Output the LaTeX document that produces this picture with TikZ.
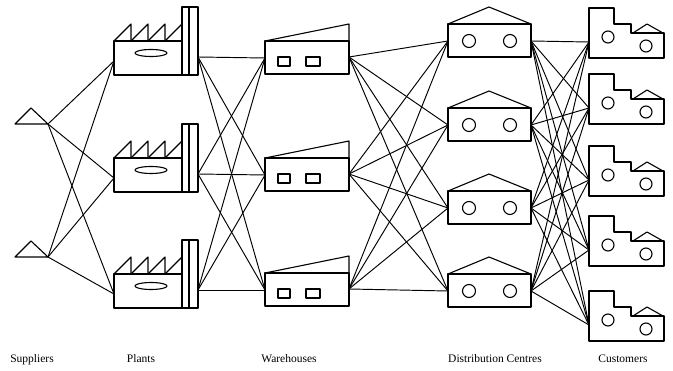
\documentclass[tikz,border=0pt]{standalone}
\usepackage{fontspec}
\setmainfont{Liberation Serif}

\begin{document}
\begin{tikzpicture}[
  x=1pt, y=-1pt,
  line cap=round,
  line join=round,
  icon/.style={line width=1.1pt},
  link/.style={line width=0.95pt},
  tierLabel/.style={font=\fontsize{11.5}{13}\selectfont, anchor=base, inner sep=0pt},
  % icons: origin at the top left corner of the main box
  supplierIcon/.pic={
    \draw[icon] (-33,0) -- (-17,-16) -- (0,0) -- cycle;
    \coordinate (-out) at (0,0);
  },
  plantIcon/.pic={
    \draw[icon] (0,0) rectangle (68,34);
    \draw[icon] (68,-34) rectangle (84,34);
    \draw[icon] (75,-34) -- (75,34);
    \foreach \t in {0,17,34,51}
      \draw[icon] (\t,0) -- (\t+17,-17) -- (\t+17,0);
    \draw[icon] (37,12) ellipse [x radius=16pt, y radius=3.5pt];
    \coordinate (-in) at (0,20);
    \coordinate (-out) at (84,16);
  },
  wareIcon/.pic={
    \draw[icon] (0,0) rectangle (84,33);
    \draw[icon] (0,0) -- (84,-17) -- (84,0);
    \draw[icon] (13,16) rectangle (25,25);
    \draw[icon] (41,16) rectangle (55,25);
    \coordinate (-in) at (0,17);
    \coordinate (-out) at (84,16);
  },
  dcIcon/.pic={
    \draw[icon] (0,0) rectangle (83,33);
    \draw[icon] (0,0) -- (41,-17) -- (83,0);
    \draw[icon] (21,17) circle [radius=6.5pt];
    \draw[icon] (62,17) circle [radius=6.5pt];
    \coordinate (-in) at (0,17);
    \coordinate (-out) at (83,17);
  },
  custIcon/.pic={
    \draw[icon] (0,0) -- (25,0) -- (25,16) -- (42,16) -- (42,25) -- (75,25)
      -- (75,50) -- (0,50) -- cycle;
    \draw[icon] (44,25) -- (58,16) -- (74,25);
    \draw[icon] (19,29) circle [radius=6pt];
    \draw[icon] (57,38) circle [radius=6pt];
    \coordinate (-in) at (0,34);
  }
]
  \useasboundingbox (0,0) rectangle (673,371);

  \pic (sup1) at (48,124) {supplierIcon};
  \pic (sup2) at (48,257) {supplierIcon};

  \pic (plant1) at (114,41) {plantIcon};
  \pic (plant2) at (114,158) {plantIcon};
  \pic (plant3) at (114,274) {plantIcon};

  \pic (ware1) at (265,41) {wareIcon};
  \pic (ware2) at (265,158) {wareIcon};
  \pic (ware3) at (265,273) {wareIcon};

  \pic (dc1) at (448,24) {dcIcon};
  \pic (dc2) at (448,108) {dcIcon};
  \pic (dc3) at (448,191) {dcIcon};
  \pic (dc4) at (448,274) {dcIcon};

  \pic (cust1) at (589,8) {custIcon};
  \pic (cust2) at (589,74) {custIcon};
  \pic (cust3) at (589,146) {custIcon};
  \pic (cust4) at (589,216) {custIcon};
  \pic (cust5) at (589,291) {custIcon};

  % every tier is linked to every member of the next one
  \foreach \a in {1,2}
    \foreach \b in {1,2,3}
      \draw[link] (sup\a-out) -- (plant\b-in);
  \foreach \a in {1,2,3}
    \foreach \b in {1,2,3}
      \draw[link] (plant\a-out) -- (ware\b-in);
  \foreach \a in {1,2,3}
    \foreach \b in {1,2,3,4}
      \draw[link] (ware\a-out) -- (dc\b-in);
  \foreach \a in {1,2,3,4}
    \foreach \b in {1,2,3,4,5}
      \draw[link] (dc\a-out) -- (cust\b-in);

  \node[tierLabel] (supLabel) at (32,363) {Suppliers};
  \node[tierLabel] (plantLabel) at (141,363) {Plants};
  \node[tierLabel] (wareLabel) at (289,363) {Warehouses};
  \node[tierLabel] (dcLabel) at (495,363) {Distribution Centres};
  \node[tierLabel] (custLabel) at (623,363) {Customers};
\end{tikzpicture}
\end{document}
